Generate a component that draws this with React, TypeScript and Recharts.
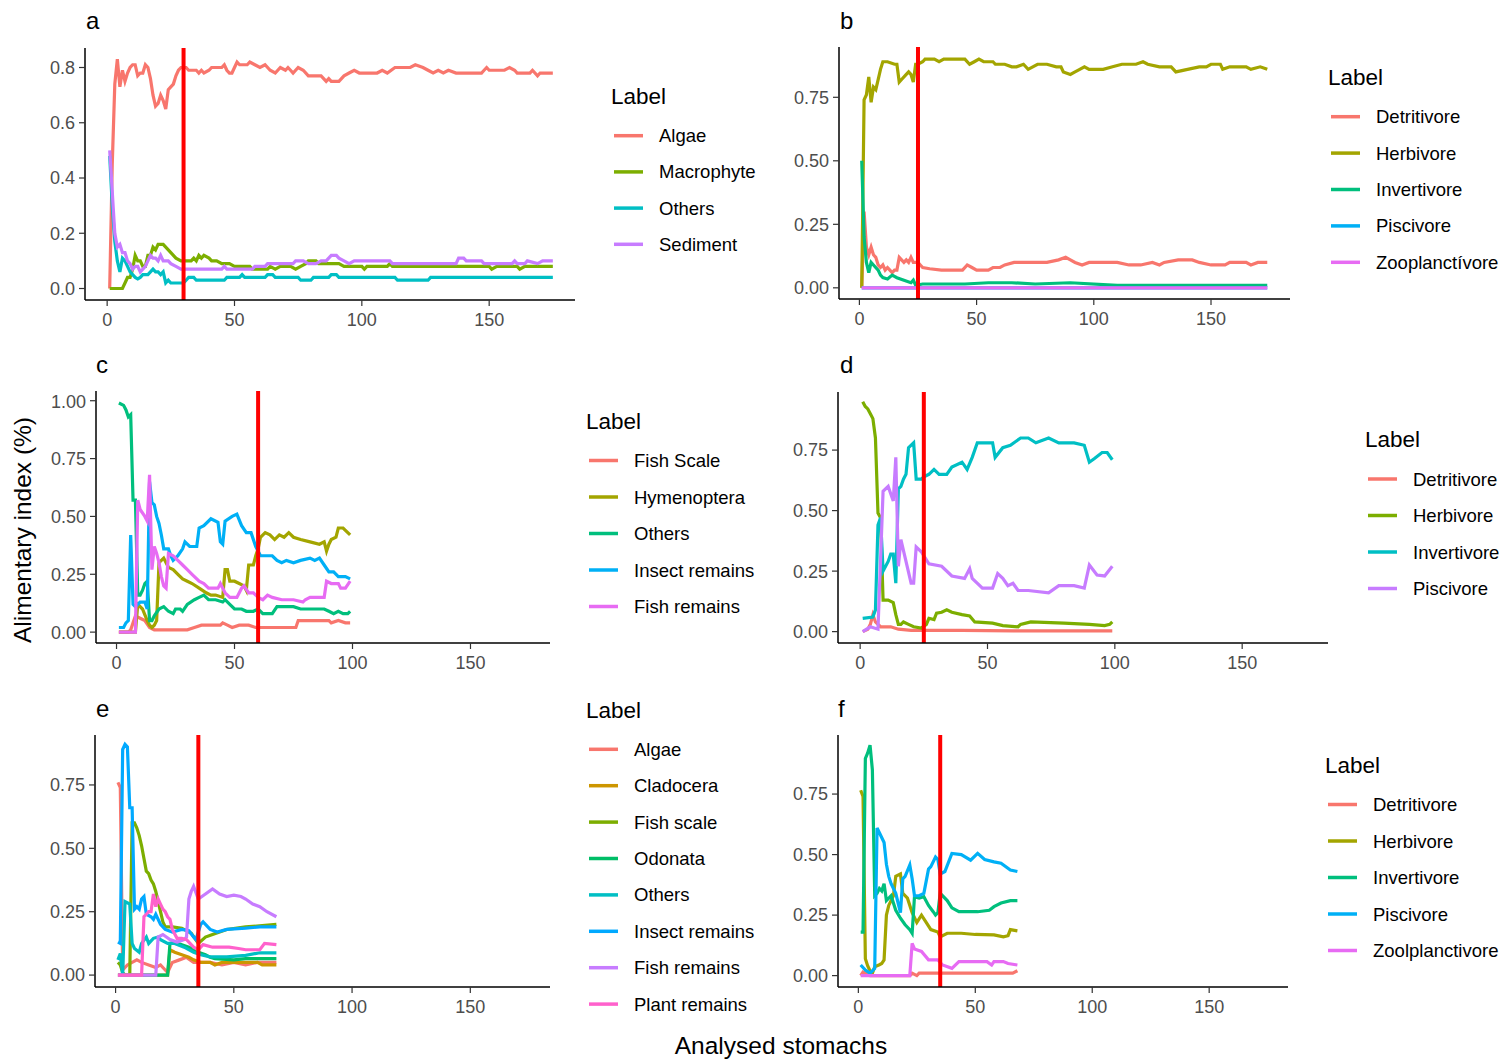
import React from 'react';
import { LineChart, Line, XAxis, YAxis, ReferenceLine } from 'recharts';

type Pt = [number, number];

const FONT = '"Liberation Sans", Arial, Helvetica, sans-serif';

// shared x axis
const X_DOMAIN = [-8.7, 183.7];
const X_TICKS = [0, 50, 100, 150];

// ---------- panel a ----------
const aAlgae: Pt[] = [[1,0],[2,0.45],[3,0.74],[4,0.83],[5,0.73],[6,0.79],[7,0.75],[8,0.78],[9,0.8],[10,0.81],[11,0.81],[12,0.77],[13,0.78],[14,0.78],[15,0.81],[16,0.8],[17,0.76],[18,0.7],[19,0.66],[20,0.67],[21,0.7],[22,0.68],[23,0.65],[24,0.72],[25,0.73],[26,0.74],[27,0.77],[28,0.79],[29,0.8],[31,0.8],[32,0.79],[35,0.79],[36,0.78],[37,0.79],[38,0.78],[40,0.79],[41,0.8],[45,0.8],[46,0.81],[47,0.79],[48,0.78],[49,0.78],[50,0.8],[51,0.82],[52,0.81],[55,0.81],[56,0.82],[58,0.81],[60,0.8],[62,0.81],[64,0.79],[66,0.78],[68,0.8],[70,0.79],[71,0.8],[72,0.79],[73,0.78],[75,0.8],[77,0.79],[79,0.77],[84,0.77],[86,0.75],[87,0.76],[88,0.75],[91,0.75],[93,0.77],[95,0.78],[97,0.79],[99,0.78],[106,0.78],[108,0.79],[110,0.78],[113,0.8],[119,0.8],[121,0.81],[124,0.8],[126,0.79],[128,0.78],[130,0.79],[132,0.78],[134,0.79],[137,0.78],[147,0.78],[148,0.79],[149,0.8],[150,0.79],[156,0.79],[158,0.8],[160,0.79],[161,0.78],[166,0.78],[167,0.79],[169,0.77],[170,0.78],[175,0.78]];
const aMacrophyte: Pt[] = [[1,0],[6,0],[7,0.02],[8,0.04],[9,0.04],[10,0.07],[11,0.12],[12,0.1],[13,0.1],[14,0.08],[15,0.08],[16,0.12],[17,0.12],[18,0.15],[19,0.14],[20,0.16],[22,0.16],[23,0.15],[24,0.14],[25,0.13],[26,0.12],[27,0.11],[29,0.1],[33,0.1],[34,0.11],[35,0.1],[36,0.12],[37,0.11],[38,0.12],[40,0.11],[41,0.1],[43,0.1],[45,0.09],[48,0.09],[50,0.08],[56,0.08],[57,0.07],[63,0.07],[64,0.08],[66,0.07],[68,0.08],[72,0.08],[74,0.07],[76,0.08],[78,0.09],[79,0.1],[82,0.1],[83,0.09],[91,0.09],[93,0.08],[100,0.08],[101,0.07],[102,0.08],[110,0.08],[111,0.09],[112,0.08],[150,0.08],[151,0.07],[153,0.08],[161,0.08],[162,0.07],[164,0.08],[175,0.08]];
const aOthers: Pt[] = [[1,0.48],[2,0.3],[3,0.17],[4,0.1],[5,0.06],[6,0.11],[7,0.1],[8,0.08],[9,0.06],[10,0.05],[11,0.04],[12,0.035],[13,0.04],[14,0.05],[16,0.05],[17,0.06],[18,0.07],[19,0.06],[20,0.06],[21,0.05],[22,0.06],[23,0.02],[24,0.03],[25,0.02],[30,0.02],[31,0.03],[32,0.04],[34,0.04],[35,0.03],[46,0.03],[47,0.04],[52,0.04],[53,0.05],[54,0.04],[62,0.04],[63,0.05],[65,0.05],[66,0.04],[75,0.04],[76,0.03],[80,0.03],[81,0.04],[87,0.04],[88,0.05],[90,0.05],[91,0.04],[113,0.04],[114,0.03],[126,0.03],[127,0.04],[175,0.04]];
const aSediment: Pt[] = [[1,0.5],[2,0.35],[3,0.2],[4,0.15],[5,0.16],[6,0.13],[7,0.13],[8,0.1],[9,0.09],[10,0.07],[11,0.08],[12,0.08],[13,0.06],[14,0.07],[15,0.08],[16,0.1],[17,0.12],[18,0.11],[19,0.11],[20,0.1],[21,0.12],[22,0.1],[24,0.1],[25,0.09],[27,0.08],[29,0.07],[45,0.07],[46,0.08],[47,0.07],[57,0.07],[58,0.08],[62,0.08],[63,0.09],[73,0.09],[74,0.1],[77,0.1],[79,0.09],[82,0.09],[84,0.1],[86,0.1],[88,0.12],[90,0.12],[91,0.11],[93,0.1],[95,0.09],[97,0.1],[111,0.1],[112,0.09],[137,0.09],[138,0.11],[140,0.11],[141,0.1],[147,0.1],[148,0.09],[159,0.09],[160,0.1],[161,0.09],[164,0.09],[165,0.1],[169,0.09],[171,0.1],[175,0.1]];

// ---------- panel b ----------
const bDetritivore: Pt[] = [[1,0],[2,0.3],[3,0.16],[4,0.13],[5,0.16],[6,0.13],[7,0.12],[8,0.09],[9,0.08],[10,0.09],[11,0.07],[12,0.08],[13,0.07],[14,0.06],[15,0.07],[16,0.07],[17,0.12],[18,0.11],[19,0.1],[20,0.11],[21,0.1],[22,0.12],[23,0.1],[25,0.1],[26,0.09],[27,0.08],[30,0.075],[35,0.07],[40,0.07],[44,0.07],[46,0.09],[48,0.08],[50,0.07],[55,0.07],[57,0.08],[60,0.08],[62,0.09],[66,0.1],[72,0.1],[80,0.1],[85,0.11],[88,0.12],[90,0.11],[92,0.1],[95,0.09],[98,0.1],[110,0.1],[115,0.09],[120,0.09],[125,0.1],[128,0.09],[130,0.1],[136,0.11],[142,0.11],[145,0.1],[150,0.09],[156,0.09],[158,0.1],[165,0.1],[167,0.09],[170,0.1],[174,0.1]];
const bHerbivore: Pt[] = [[1,0],[2,0.74],[3,0.76],[4,0.83],[5,0.73],[6,0.79],[7,0.78],[8,0.82],[9,0.86],[10,0.89],[12,0.89],[15,0.88],[16,0.88],[17,0.81],[18,0.82],[20,0.84],[21,0.85],[22,0.84],[23,0.81],[24,0.88],[25,0.88],[27,0.89],[28,0.9],[32,0.9],[34,0.89],[36,0.9],[45,0.9],[47,0.88],[49,0.89],[51,0.9],[53,0.89],[57,0.89],[58,0.88],[62,0.88],[65,0.87],[67,0.87],[70,0.88],[72,0.86],[76,0.88],[80,0.88],[84,0.87],[86,0.87],[87,0.85],[90,0.84],[92,0.85],[94,0.86],[96,0.87],[98,0.86],[104,0.86],[108,0.87],[112,0.88],[118,0.88],[121,0.89],[123,0.88],[128,0.87],[133,0.87],[135,0.85],[140,0.86],[145,0.87],[148,0.87],[150,0.88],[154,0.88],[155,0.86],[158,0.87],[165,0.87],[167,0.86],[171,0.87],[174,0.86]];
const bInvertivore: Pt[] = [[1,0.5],[2,0.2],[3,0.1],[4,0.06],[5,0.1],[6,0.09],[8,0.07],[9,0.05],[10,0.04],[12,0.035],[14,0.05],[16,0.04],[19,0.03],[22,0.02],[23,0.03],[24,0.01],[27,0.015],[45,0.015],[55,0.02],[65,0.02],[75,0.015],[90,0.02],[110,0.01],[174,0.01]];
const bPiscivore: Pt[] = [[1,0],[60,0],[120,0],[174,0]];
const bZooplanctivore: Pt[] = [[1,0],[60,0],[120,0],[174,0]];

// ---------- panel c ----------
const cFishScale: Pt[] = [[1,0],[5,0],[6,0.01],[7,0.04],[8,0.07],[10,0.06],[12,0.05],[14,0.02],[16,0.01],[30,0.01],[33,0.02],[36,0.03],[44,0.03],[45,0.04],[47,0.03],[49,0.02],[52,0.03],[56,0.03],[59,0.02],[76,0.02],[77,0.05],[90,0.05],[91,0.04],[94,0.05],[97,0.04],[99,0.04]];
const cHymenoptera: Pt[] = [[1,0],[8,0],[9,0.12],[11,0.1],[13,0.05],[14,0.03],[15,0.02],[16,0.03],[17,0.05],[18,0.3],[19,0.31],[20,0.32],[21,0.3],[22,0.28],[24,0.27],[26,0.25],[28,0.23],[30,0.22],[32,0.21],[35,0.19],[38,0.17],[40,0.16],[42,0.16],[45,0.15],[46,0.27],[47,0.27],[48,0.22],[50,0.22],[52,0.21],[54,0.2],[55,0.18],[56,0.29],[58,0.29],[59,0.33],[60,0.36],[61,0.41],[63,0.43],[65,0.42],[67,0.4],[69,0.42],[71,0.41],[73,0.43],[75,0.41],[78,0.4],[82,0.39],[86,0.38],[88,0.39],[89,0.35],[90,0.38],[91,0.4],[93,0.41],[94,0.45],[96,0.45],[97,0.44],[99,0.42]];
const cOthers: Pt[] = [[1,0.99],[3,0.98],[4,0.96],[5,0.93],[6,0.94],[7,0.57],[8,0.57],[9,0.16],[10,0.16],[11,0.18],[12,0.21],[13,0.22],[14,0.05],[15,0.05],[16,0.07],[18,0.1],[20,0.11],[22,0.09],[24,0.08],[25,0.1],[27,0.1],[28,0.09],[30,0.12],[33,0.14],[35,0.15],[37,0.16],[39,0.14],[42,0.14],[45,0.13],[46,0.14],[48,0.12],[50,0.1],[53,0.1],[55,0.09],[58,0.09],[60,0.1],[62,0.08],[66,0.08],[68,0.11],[75,0.11],[78,0.1],[88,0.1],[90,0.09],[92,0.08],[94,0.09],[96,0.08],[98,0.08],[99,0.09]];
const cInsect: Pt[] = [[1,0.02],[3,0.02],[4,0.04],[5,0.05],[6,0.42],[7,0.12],[8,0.11],[10,0.13],[12,0.13],[13,0.1],[14,0.65],[15,0.56],[16,0.55],[17,0.5],[18,0.47],[19,0.42],[20,0.36],[22,0.36],[23,0.33],[24,0.31],[26,0.33],[28,0.36],[29,0.39],[31,0.37],[34,0.37],[35,0.45],[37,0.46],[40,0.49],[43,0.475],[44,0.39],[45,0.38],[46,0.48],[49,0.5],[51,0.51],[53,0.46],[55,0.43],[57,0.43],[59,0.37],[61,0.33],[62,0.33],[66,0.33],[68,0.31],[70,0.3],[72,0.31],[75,0.3],[78,0.31],[82,0.32],[84,0.31],[86,0.32],[88,0.29],[90,0.26],[92,0.26],[94,0.24],[97,0.24],[99,0.23]];
const cFishRemains: Pt[] = [[1,0],[8,0],[9,0.57],[10,0.53],[12,0.5],[13,0.48],[14,0.68],[15,0.27],[16,0.37],[17,0.34],[18,0.3],[19,0.24],[20,0.2],[21,0.19],[22,0.34],[24,0.33],[26,0.31],[28,0.29],[30,0.27],[32,0.25],[35,0.22],[37,0.21],[39,0.19],[43,0.19],[44,0.21],[46,0.17],[48,0.15],[51,0.15],[53,0.19],[54,0.2],[56,0.17],[58,0.17],[60,0.15],[62,0.14],[64,0.16],[66,0.15],[70,0.14],[75,0.14],[79,0.13],[80,0.14],[82,0.15],[88,0.15],[89,0.22],[91,0.21],[94,0.21],[95,0.19],[97,0.19],[99,0.22]];

// ---------- panel d ----------
const dDetritivore: Pt[] = [[1,0],[3,0.01],[4,0.03],[5,0.07],[6,0.04],[8,0.02],[12,0.02],[15,0.01],[20,0.005],[40,0.005],[60,0.003],[99,0.003]];
const dHerbivore: Pt[] = [[1,0.95],[2,0.93],[3,0.92],[4,0.9],[5,0.88],[6,0.8],[7,0.49],[8,0.47],[9,0.13],[11,0.13],[13,0.12],[14,0.07],[15,0.03],[16,0.03],[17,0.04],[19,0.03],[21,0.02],[24,0.015],[26,0.03],[27,0.055],[29,0.05],[30,0.076],[32,0.08],[34,0.09],[36,0.08],[40,0.07],[43,0.065],[45,0.04],[52,0.035],[56,0.025],[62,0.02],[63,0.03],[67,0.04],[80,0.035],[90,0.03],[96,0.025],[98,0.03],[99,0.04]];
const dInvertivore: Pt[] = [[1,0.055],[5,0.06],[6,0.09],[7,0.44],[8,0.47],[9,0.25],[11,0.29],[12,0.32],[13,0.32],[14,0.2],[15,0.59],[16,0.6],[17,0.63],[18,0.65],[19,0.76],[21,0.78],[22,0.63],[24,0.63],[25,0.64],[27,0.65],[29,0.67],[31,0.65],[34,0.65],[36,0.68],[40,0.7],[42,0.67],[44,0.72],[46,0.78],[52,0.78],[53,0.72],[56,0.76],[59,0.77],[63,0.8],[66,0.8],[69,0.78],[74,0.8],[78,0.78],[84,0.78],[88,0.77],[90,0.7],[92,0.715],[95,0.74],[97,0.74],[99,0.71]];
const dPiscivore: Pt[] = [[1,0],[4,0.02],[7,0.01],[9,0.58],[11,0.6],[13,0.54],[14,0.72],[15,0.27],[16,0.38],[18,0.29],[20,0.2],[21,0.2],[22,0.35],[24,0.33],[27,0.28],[32,0.27],[36,0.23],[41,0.22],[43,0.26],[44,0.22],[48,0.18],[52,0.18],[54,0.24],[56,0.22],[58,0.19],[60,0.2],[62,0.17],[66,0.17],[74,0.16],[78,0.19],[84,0.19],[88,0.18],[90,0.275],[93,0.234],[96,0.23],[99,0.27]];

// ---------- panel e ----------
const eAlgae: Pt[] = [[1,0.76],[2,0.74],[3,0.02],[4,0.03],[5,0.04],[7,0.05],[9,0.06],[11,0.05],[14,0.04],[17,0.03],[19,0.04],[21,0.02],[22,0.01],[24,0.05],[27,0.06],[30,0.07],[33,0.05],[40,0.05],[45,0.04],[50,0.05],[55,0.04],[60,0.05],[68,0.05]];
const eCladocera: Pt[] = [[1,0],[22,0],[23,0.1],[25,0.09],[28,0.08],[31,0.07],[33,0.06],[36,0.05],[40,0.05],[42,0.04],[45,0.05],[60,0.05],[62,0.04],[68,0.04]];
const eFishScale: Pt[] = [[1,0.05],[2,0.04],[3,0.01],[4,0],[6,0],[7,0.6],[8,0.6],[9,0.58],[10,0.55],[11,0.51],[12,0.46],[13,0.41],[14,0.4],[15,0.375],[16,0.36],[17,0.33],[18,0.29],[19,0.25],[20,0.21],[21,0.19],[24,0.19],[28,0.185],[32,0.165],[35,0.125],[38,0.15],[41,0.16],[47,0.18],[55,0.19],[62,0.195],[68,0.2]];
const eOdonata: Pt[] = [[1,0],[22,0],[23,0.125],[25,0.13],[28,0.12],[31,0.11],[33,0.1],[35,0.09],[38,0.08],[40,0.07],[42,0.065],[50,0.06],[55,0.065],[68,0.065]];
const eOthers: Pt[] = [[1,0.06],[2,0.085],[3,0],[4,0.29],[6,0.28],[7,0.125],[8,0.105],[10,0.09],[11,0.125],[13,0.15],[14,0.125],[16,0.145],[18,0.15],[19,0.14],[22,0.125],[25,0.125],[29,0.11],[33,0.09],[36,0.08],[40,0.072],[47,0.072],[55,0.078],[61,0.088],[68,0.088]];
const eInsect: Pt[] = [[1,0.13],[2,0.125],[3,0.89],[4,0.91],[5,0.9],[6,0.66],[7,0.66],[8,0.26],[9,0.27],[10,0.26],[11,0.3],[12,0.31],[13,0.24],[15,0.23],[16,0.22],[17,0.24],[19,0.2],[21,0.18],[24,0.17],[28,0.18],[31,0.175],[33,0.15],[34,0.14],[36,0.2],[37,0.21],[40,0.18],[43,0.17],[47,0.18],[55,0.185],[61,0.19],[68,0.19]];
const eFishRemains: Pt[] = [[1,0],[17,0],[18,0.15],[20,0.16],[23,0.14],[26,0.13],[29,0.14],[30,0.15],[31,0.3],[32,0.33],[33,0.35],[35,0.3],[38,0.32],[41,0.34],[44,0.32],[47,0.31],[50,0.315],[53,0.31],[55,0.3],[58,0.28],[61,0.27],[64,0.25],[68,0.23]];
const ePlant: Pt[] = [[1,0],[11,0],[12,0.23],[13,0.24],[14,0.25],[15,0.25],[16,0.32],[17,0.27],[18,0.3],[19,0.28],[20,0.26],[21,0.25],[22,0.23],[23,0.22],[24,0.18],[26,0.145],[28,0.145],[30,0.14],[33,0.11],[35,0.1],[37,0.12],[41,0.11],[48,0.11],[52,0.105],[55,0.1],[61,0.1],[63,0.125],[68,0.12]];

// ---------- panel f ----------
const fDetritivore: Pt[] = [[1,0],[2,0.015],[3,0.01],[5,0],[22,0],[23,0.01],[25,0],[26,0.01],[66,0.01],[68,0.02]];
const fHerbivore: Pt[] = [[1,0.766],[2,0.74],[3,0.07],[4,0.04],[5,0.02],[6,0.01],[7,0.037],[9,0.045],[10,0.05],[11,0.065],[12,0.25],[13,0.29],[15,0.33],[16,0.41],[18,0.42],[19,0.34],[21,0.32],[23,0.26],[25,0.22],[27,0.25],[29,0.22],[31,0.19],[34,0.18],[35,0.16],[38,0.175],[44,0.175],[50,0.17],[58,0.168],[62,0.16],[64,0.165],[65,0.19],[68,0.185]];
const fInvertivore: Pt[] = [[1,0.18],[2,0.18],[3,0.897],[4,0.92],[5,0.952],[6,0.85],[7,0.33],[8,0.34],[9,0.36],[10,0.35],[11,0.38],[12,0.31],[14,0.33],[16,0.27],[18,0.237],[20,0.21],[22,0.19],[23,0.175],[24,0.326],[26,0.32],[28,0.326],[30,0.29],[32,0.264],[33,0.25],[34,0.26],[35,0.34],[38,0.31],[40,0.28],[43,0.264],[51,0.264],[56,0.27],[58,0.285],[61,0.3],[65,0.31],[68,0.31]];
const fPiscivore: Pt[] = [[1,0.044],[3,0.023],[5,0.01],[6,0.02],[7,0.03],[8,0.61],[9,0.59],[11,0.55],[12,0.46],[13,0.41],[14,0.38],[16,0.34],[17,0.3],[18,0.26],[19,0.4],[20,0.41],[22,0.457],[23,0.4],[24,0.33],[26,0.33],[28,0.34],[30,0.44],[31,0.45],[33,0.49],[34,0.48],[35,0.42],[37,0.43],[40,0.505],[44,0.5],[48,0.477],[51,0.505],[54,0.48],[58,0.47],[61,0.464],[65,0.436],[68,0.43]];
const fZoo: Pt[] = [[1,0],[22,0],[23,0.133],[24,0.11],[27,0.1],[30,0.065],[34,0.065],[36,0.044],[40,0.03],[43,0.058],[55,0.058],[57,0.044],[58,0.058],[62,0.058],[64,0.05],[68,0.044]];

const C_RED = '#F8766D';

interface Series { name: string; color: string; pts: Pt[] }
interface PanelDef {
  letter: string; letterX: number; letterY: number;
  left: number; top: number; w: number; h: number;
  yDomain: number[]; yTicks: number[]; digits: number;
  vline: number;
  legendX: number; legendTitleY: number; legendRowY: number; legendStep: number;
  series: Series[];
}

const panels: PanelDef[] = [
  {
    letter: 'a', letterX: 86, letterY: 29, left: 85, top: 48, w: 490, h: 252,
    yDomain: [-0.0416, 0.8706], yTicks: [0, 0.2, 0.4, 0.6, 0.8], digits: 1, vline: 30,
    legendX: 611, legendTitleY: 96, legendRowY: 135.7, legendStep: 36.2,
    series: [
      { name: 'Algae', color: C_RED, pts: aAlgae },
      { name: 'Macrophyte', color: '#7CAE00', pts: aMacrophyte },
      { name: 'Others', color: '#00BFC4', pts: aOthers },
      { name: 'Sediment', color: '#C77CFF', pts: aSediment },
    ],
  },
  {
    letter: 'b', letterX: 840, letterY: 29, left: 839, top: 47, w: 451, h: 252,
    yDomain: [-0.044, 0.948], yTicks: [0, 0.25, 0.5, 0.75], digits: 2, vline: 25,
    legendX: 1328, legendTitleY: 77.5, legendRowY: 116.7, legendStep: 36.4,
    series: [
      { name: 'Detritivore', color: C_RED, pts: bDetritivore },
      { name: 'Herbivore', color: '#A3A500', pts: bHerbivore },
      { name: 'Invertivore', color: '#00BF7D', pts: bInvertivore },
      { name: 'Piscivore', color: '#00B0F6', pts: bPiscivore },
      { name: 'Zooplanctívore', color: '#E76BF3', pts: bZooplanctivore },
    ],
  },
  {
    letter: 'c', letterX: 96, letterY: 373, left: 96, top: 391, w: 454, h: 252,
    yDomain: [-0.047, 1.042], yTicks: [0, 0.25, 0.5, 0.75, 1], digits: 2, vline: 60,
    legendX: 586, legendTitleY: 421, legendRowY: 460.5, legendStep: 36.5,
    series: [
      { name: 'Fish Scale', color: C_RED, pts: cFishScale },
      { name: 'Hymenoptera', color: '#A3A500', pts: cHymenoptera },
      { name: 'Others', color: '#00BF7D', pts: cOthers },
      { name: 'Insect remains', color: '#00B0F6', pts: cInsect },
      { name: 'Fish remains', color: '#E76BF3', pts: cFishRemains },
    ],
  },
  {
    letter: 'd', letterX: 840, letterY: 373, left: 838, top: 392, w: 490, h: 251,
    yDomain: [-0.047, 0.99], yTicks: [0, 0.25, 0.5, 0.75], digits: 2, vline: 25,
    legendX: 1365, legendTitleY: 439, legendRowY: 479, legendStep: 36.5,
    series: [
      { name: 'Detritivore', color: C_RED, pts: dDetritivore },
      { name: 'Herbivore', color: '#7CAE00', pts: dHerbivore },
      { name: 'Invertivore', color: '#00BFC4', pts: dInvertivore },
      { name: 'Piscivore', color: '#C77CFF', pts: dPiscivore },
    ],
  },
  {
    letter: 'e', letterX: 96, letterY: 717, left: 95, top: 735, w: 455, h: 252,
    yDomain: [-0.047, 0.947], yTicks: [0, 0.25, 0.5, 0.75], digits: 2, vline: 35,
    legendX: 586, legendTitleY: 710.8, legendRowY: 749.3, legendStep: 36.4,
    series: [
      { name: 'Algae', color: C_RED, pts: eAlgae },
      { name: 'Cladocera', color: '#CD9600', pts: eCladocera },
      { name: 'Fish scale', color: '#7CAE00', pts: eFishScale },
      { name: 'Odonata', color: '#00BE67', pts: eOdonata },
      { name: 'Others', color: '#00BFC4', pts: eOthers },
      { name: 'Insect remains', color: '#00A9FF', pts: eInsect },
      { name: 'Fish remains', color: '#C77CFF', pts: eFishRemains },
      { name: 'Plant remains', color: '#FF61CC', pts: ePlant },
    ],
  },
  {
    letter: 'f', letterX: 838, letterY: 717, left: 838, top: 735, w: 450, h: 252,
    yDomain: [-0.047, 0.994], yTicks: [0, 0.25, 0.5, 0.75], digits: 2, vline: 35,
    legendX: 1325, legendTitleY: 765, legendRowY: 804.5, legendStep: 36.5,
    series: [
      { name: 'Detritivore', color: C_RED, pts: fDetritivore },
      { name: 'Herbivore', color: '#A3A500', pts: fHerbivore },
      { name: 'Invertivore', color: '#00BF7D', pts: fInvertivore },
      { name: 'Piscivore', color: '#00B0F6', pts: fPiscivore },
      { name: 'Zoolplanctivore', color: '#E76BF3', pts: fZoo },
    ],
  },
];

const Y_W = 60;
const X_H = 40;

function Panel({ p }: { p: PanelDef }) {
  return (
    <div style={{ position: 'absolute', left: p.left - Y_W, top: p.top }}>
      <LineChart width={p.w + Y_W} height={p.h + X_H} margin={{ top: 0, right: 0, bottom: 0, left: 0 }}>
        <XAxis
          type="number" dataKey="x" domain={X_DOMAIN} ticks={X_TICKS} allowDataOverflow
          height={X_H} tickSize={6} tickMargin={7}
          axisLine={{ stroke: '#000', strokeWidth: 1.5 }} tickLine={{ stroke: '#333', strokeWidth: 1.2 }}
          tick={{ fill: '#4d4d4d', fontSize: 18 }}
        />
        <YAxis
          type="number" domain={p.yDomain} ticks={p.yTicks} allowDataOverflow
          width={Y_W} tickSize={6} tickMargin={4}
          axisLine={{ stroke: '#000', strokeWidth: 1.5 }} tickLine={{ stroke: '#333', strokeWidth: 1.2 }}
          tick={{ fill: '#4d4d4d', fontSize: 18 }}
          tickFormatter={(v: number) => v.toFixed(p.digits)}
        />
        {p.series.map((s) => (
          <Line
            key={s.name}
            data={s.pts.map(([x, y]) => ({ x, y }))}
            dataKey="y" type="linear" stroke={s.color} strokeWidth={3.2}
            dot={false} activeDot={false} isAnimationActive={false}
          />
        ))}
        <ReferenceLine x={p.vline} stroke="#FF0000" strokeWidth={4} />
      </LineChart>
    </div>
  );
}

export default function App() {
  return (
    <div style={{ position: 'absolute', left: 0, top: 0, width: 1512, height: 1059, background: '#fff', fontFamily: FONT }}>
      {panels.map((p) => <Panel key={p.letter} p={p} />)}
      <svg width={1512} height={1059} style={{ position: 'absolute', left: 0, top: 0, pointerEvents: 'none' }} fontFamily={FONT}>
        {panels.map((p) => (
          <g key={p.letter}>
            <text x={p.letterX} y={p.letterY} fontSize={24} fill="#000">{p.letter}</text>
            <text x={p.legendX} y={p.legendTitleY} fontSize={22.5} fill="#000" dominantBaseline="central">Label</text>
            {p.series.map((s, i) => {
              const y = p.legendRowY + i * p.legendStep;
              return (
                <g key={s.name}>
                  <line x1={p.legendX + 3} x2={p.legendX + 32} y1={y} y2={y} stroke={s.color} strokeWidth={3.5} />
                  <text x={p.legendX + 48} y={y} fontSize={18.5} fill="#000" dominantBaseline="central">{s.name}</text>
                </g>
              );
            })}
          </g>
        ))}
        <text x={781} y={1045} fontSize={24.5} fill="#000" textAnchor="middle" dominantBaseline="central">Analysed stomachs</text>
        <text x={22} y={530} fontSize={24.5} fill="#000" textAnchor="middle" dominantBaseline="central" transform="rotate(-90 22 530)">Alimentary index (%)</text>
      </svg>
    </div>
  );
}
